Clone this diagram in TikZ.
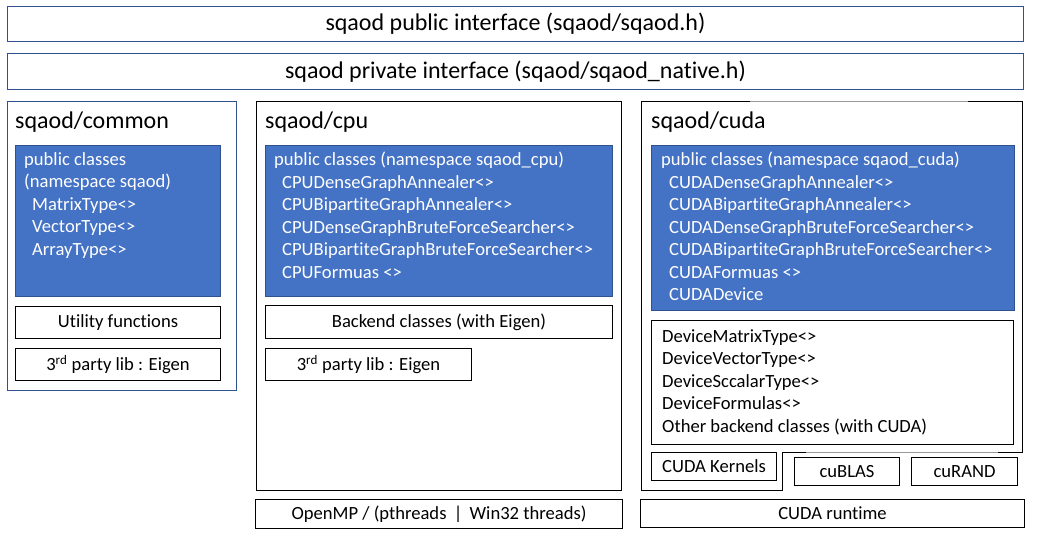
\documentclass[tikz,border=0pt]{standalone}
\usepackage{fontspec}
\setmainfont{Carlito}[Ligatures=NoCommon]
\usetikzlibrary{positioning}
\definecolor{ifaceedge}{HTML}{2F528F}
\definecolor{classfill}{HTML}{4472C4}
\definecolor{classedge}{HTML}{2F528F}
\newcommand{\bodysize}{\fontsize{18.6}{22.5}\selectfont}
\tikzset{
  ifacebox/.style={draw=ifaceedge, line width=1pt, anchor=north west, inner sep=0pt, font=\fontsize{24}{28}\selectfont},
  panel/.style={draw=black, line width=1pt, anchor=north west, inner sep=0pt},
  classbox/.style={draw=classedge, fill=classfill, line width=1pt, anchor=north west, inner sep=0pt},
  libbox/.style={draw=black, line width=1pt, anchor=north west, inner sep=0pt, font=\bodysize},
  paneltitle/.style={anchor=base west, inner sep=0pt, font=\fontsize{24}{28}\selectfont},
  listing/.style={anchor=north west, inner sep=0pt, align=left, font=\bodysize},
}

\begin{document}
\begin{tikzpicture}[x=1pt, y=-1pt]
  \useasboundingbox (0,0) rectangle (1037,541);

  % interface layers
  \node [ifacebox, minimum width=1016, minimum height=35] (publicIface) at (7,6) {sqaod public interface (sqaod/sqaod.h)};
  \node [ifacebox, minimum width=1016, minimum height=36] (privateIface) at (7,53) {sqaod private interface (sqaod/sqaod\_native.h)};

  % sqaod/common
  \node [panel, draw=ifaceedge, minimum width=229, minimum height=289] (commonPanel) at (7,101) {};
  \node [paneltitle] (commonTitle) at (15,128) {sqaod/common};
  \node [classbox, minimum width=205, minimum height=151] (commonClasses) at (15,145) {};
  \node [listing, text=white] (commonList) at (24,152) {public classes\\(namespace sqaod)\\\hspace*{8pt}MatrixType<>\\\hspace*{8pt}VectorType<>\\\hspace*{8pt}ArrayType<>};
  \node [libbox, minimum width=205, minimum height=32] (commonUtil) at (15,306) {Utility functions};
  \node [libbox, minimum width=205, minimum height=32] (commonEigen) at (15,348) {3\textsuperscript{rd} party lib : Eigen};

  % sqaod/cpu
  \node [panel, minimum width=365, minimum height=389] (cpuPanel) at (256,101) {};
  \node [paneltitle] (cpuTitle) at (265,128) {sqaod/cpu};
  \node [classbox, minimum width=347, minimum height=151] (cpuClasses) at (265,145) {};
  \node [listing, text=white] (cpuList) at (274,152) {public classes (namespace sqaod\_cpu)\\\hspace*{8pt}CPUDenseGraphAnnealer<>\\\hspace*{8pt}CPUBipartiteGraphAnnealer<>\\\hspace*{8pt}CPUDenseGraphBruteForceSearcher<>\\\hspace*{8pt}CPUBipartiteGraphBruteForceSearcher<>\\\hspace*{8pt}CPUFormuas <>};
  \node [libbox, minimum width=347, minimum height=33] (cpuBackend) at (265,305) {Backend classes (with Eigen)};
  \node [libbox, minimum width=206, minimum height=32] (cpuEigen) at (265,348) {3\textsuperscript{rd} party lib : Eigen};
  \node [libbox, minimum width=367, minimum height=29] (threads) at (255,499) {OpenMP / (pthreads \,|\, Win32 threads)};

  % sqaod/cuda
  \draw [line width=1pt] (641,101) -- (1022,101) -- (1022,452) -- (782,452) -- (782,490) -- (641,490) -- cycle;
  \draw [line width=1pt, black!40] (750,101) -- (968,101);
  \draw [line width=1pt, black!40] (806,452) -- (998,452);
  \node [paneltitle] (cudaTitle) at (651,128) {sqaod/cuda};
  \node [classbox, minimum width=363, minimum height=165] (cudaClasses) at (651,145) {};
  \node [listing, text=white] (cudaList) at (661,152) {public classes (namespace sqaod\_cuda)\\\hspace*{8pt}CUDADenseGraphAnnealer<>\\\hspace*{8pt}CUDABipartiteGraphAnnealer<>\\\hspace*{8pt}CUDADenseGraphBruteForceSearcher<>\\\hspace*{8pt}CUDABipartiteGraphBruteForceSearcher<>\\\hspace*{8pt}CUDAFormuas <>\\\hspace*{8pt}CUDADevice};
  \node [libbox, minimum width=362, minimum height=124] (cudaBackend) at (651,320) {};
  \node [listing] (cudaBackendList) at (662,329) {DeviceMatrixType<>\\DeviceVectorType<>\\DeviceSccalarType<>\\DeviceFormulas<>\\Other backend classes (with CUDA)};
  \node [libbox, minimum width=125, minimum height=28] (cudaKernels) at (651,452) {CUDA Kernels};
  \node [libbox, minimum width=105, minimum height=28] (cublas) at (794,457) {cuBLAS};
  \node [libbox, minimum width=106, minimum height=28, right=11 of cublas] (curand) {cuRAND};
  \node [libbox, minimum width=384, minimum height=28] (cudaRuntime) at (640,499) {CUDA runtime};
\end{tikzpicture}
\end{document}
